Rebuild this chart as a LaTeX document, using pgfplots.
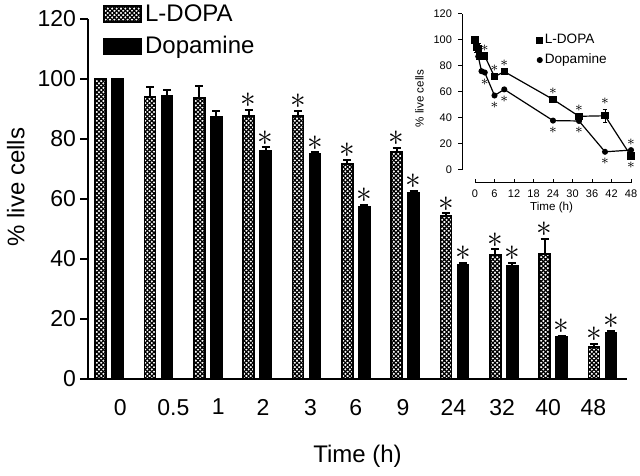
\documentclass[border=0pt]{standalone}
\usepackage{fontspec}
\setmainfont{Liberation Sans}
\usepackage{pgfplots}
\usepackage{pgfplotstable}
\pgfplotsset{compat=1.18}
\usetikzlibrary{patterns}
\pgfdeclarepatternformonly{diamondhatch}{\pgfqpoint{-0.5pt}{-0.5pt}}{\pgfqpoint{2.7pt}{2.7pt}}{\pgfqpoint{2.2pt}{2.2pt}}{%
 \pgfsetlinewidth{0.55pt}%
 \pgfpathmoveto{\pgfqpoint{-0.5pt}{-0.5pt}}\pgfpathlineto{\pgfqpoint{2.7pt}{2.7pt}}%
 \pgfpathmoveto{\pgfqpoint{-0.5pt}{2.7pt}}\pgfpathlineto{\pgfqpoint{2.7pt}{-0.5pt}}%
 \pgfusepath{stroke}}

\pgfplotstableread{
x t L Lerr D Derr
0 0 100 0 100 0
1 0.5 94 3.3 94.5 1.7
2 1 93.7 4 87.3 2
3 2 87.7 2 76 1.3
4 3 87.7 1.7 75 0.6
5 6 71.7 1.3 57.3 0.7
6 9 75.7 1.3 62 0.7
7 24 54.3 1 38 0.7
8 32 41.3 2 37.7 1
9 40 41.7 5 14 0.4
10 48 10.7 1 15.3 0.7
}\data

\newcommand{\bigast}{\scalebox{1.3}{\fontsize{13}{13}\selectfont$\ast$}}
\newcommand{\smallast}{\fontsize{7}{7}\selectfont$\ast$}

\begin{document}
\begin{tikzpicture}
\useasboundingbox (0,0) rectangle (320pt,237.5pt);
\begin{axis}[
  at={(44pt,48pt)}, anchor=south west,
  scale only axis, width=269.5pt, height=180pt,
  xmin=-0.43, xmax=10.5, ymin=0, ymax=120,
  axis x line*=bottom, axis y line*=left,
  axis line style={line width=1pt, black},
  ytick={0,20,...,120},
  xtick={0.223,1.30,2.21,3.12,4.08,5.0,5.96,6.98,7.97,8.90,9.82},
  xticklabels={0,0.5,1,2,3,6,9,24,32,40,48},
  x tick style={draw=none},
  y tick style={line width=1pt, black},
  tick align=outside, major tick length=4pt,
  ticklabel style={font=\fontsize{11.5}{12}\selectfont},
  xticklabel style={yshift=-2.5pt},
  yticklabel style={xshift=1.5pt},
  /pgf/number format/assume math mode=true,
  xlabel={Time (h)},
  ylabel={\% live cells},
  label style={font=\fontsize{12}{12}\selectfont},
  xlabel style={at={(axis description cs:0.5,-0.2306)}, anchor=base},
  ylabel style={at={(axis description cs:-0.118,0.533)}, anchor=base, rotate=0},
  ybar, bar width=5.5pt,
  legend image code/.code={\draw[#1, line width=0.8pt] (0pt,-3.8pt) rectangle (18.5pt,4pt);},
  legend style={at={(axis description cs:0.028,1.05)}, anchor=north west,
    draw=none, fill=none, font=\fontsize{12}{12}\selectfont,
    row sep=3pt, inner sep=0pt, nodes={inner sep=1.5pt}},
  legend cell align=left,
  error bars/error bar style={line width=1pt, black},
  error bars/error mark options={rotate=90, mark size=2pt, line width=1pt, black},
]
\addplot[bar shift=-4.25pt, draw=black, line width=0.8pt, pattern=diamondhatch, pattern color=black,
  error bars/.cd, y dir=plus, y explicit]
  table[x=x, y=L, y error=Lerr]{\data};
\addlegendentry{L-DOPA}
\addplot[bar shift=4.25pt, draw=black, line width=0.8pt, fill=black,
  error bars/.cd, y dir=plus, y explicit]
  table[x=x, y=D, y error=Derr]{\data};
\addlegendentry{Dopamine}
% significance marks above L-DOPA bars
\addplot[bar shift=-4.25pt, draw=none, fill=none, forget plot,
  nodes near coords={\bigast},
  every node near coord/.append style={anchor=south, inner sep=0pt, yshift=0.8pt, text=black}]
  coordinates {(3,89.7) (4,89.4) (5,73) (6,77) (7,55.3) (8,43.3) (9,46.7) (10,11.7)};
% significance marks above Dopamine bars
\addplot[bar shift=4.25pt, draw=none, fill=none, forget plot,
  nodes near coords={\bigast},
  every node near coord/.append style={anchor=south, inner sep=0pt, yshift=0.8pt, text=black}]
  coordinates {(3,77.3) (4,75.6) (5,58) (6,62.7) (7,38.7) (8,38.7) (9,14.4) (10,16)};
\end{axis}

\begin{axis}[
  at={(231pt,146pt)}, anchor=south west,
  scale only axis, width=84.5pt, height=84.5pt,
  xmin=-4, xmax=48, ymin=-10, ymax=120,
  axis line style={draw=none},
  xtick={0,6,...,48}, ytick={0,20,...,120},
  xtick pos=left, ytick pos=left,
  tick align=inside, major tick length=2pt,
  tick style={line width=0.5pt, black},
  y tick style={xshift=-2pt},
  ticklabel style={font=\fontsize{5.5}{6}\selectfont},
  yticklabel style={xshift=-1.5pt},
  /pgf/number format/assume math mode=true,
  xlabel={Time (h)}, ylabel={\% live cells},
  label style={font=\fontsize{5.8}{6}\selectfont},
  xlabel style={at={(axis description cs:0.53,-0.16)}, anchor=base},
  ylabel style={yshift=-2pt},
  legend style={at={(axis description cs:0.44,0.895)}, anchor=north west,
    draw=none, fill=none, font=\fontsize{6.8}{7}\selectfont,
    row sep=1.5pt, inner sep=0pt, nodes={inner sep=1pt}},
  legend cell align=left,
  legend image code/.code={\draw[#1, only marks] plot coordinates {(0pt,0pt)};},
]
\draw[line width=0.6pt] (axis cs:-4,0) -- (axis cs:-4,120);
\draw[line width=0.6pt] (axis cs:0,-10) -- (axis cs:48,-10);
\addplot[black, line width=0.6pt, mark=square*, mark size=1.5pt,
  error bars/.cd, y dir=both, y explicit,
  error bar style={line width=0.4pt, black},
  error mark options={rotate=90, mark size=1.2pt, line width=0.4pt, black}]
  table[x=t, y=L, y error=Lerr]{\data};
\addlegendentry{L-DOPA}
\addplot[black, line width=0.6pt, mark=*, mark size=1.2pt,
  error bars/.cd, y dir=both, y explicit,
  error bar style={line width=0.4pt, black},
  error mark options={rotate=90, mark size=1.2pt, line width=0.4pt, black}]
  table[x=t, y=D, y error=Derr]{\data};
\addlegendentry{Dopamine}
\addplot[draw=none, mark=none, forget plot,
  nodes near coords={\smallast},
  every node near coord/.append style={anchor=south, inner sep=0pt, yshift=2.2pt, text=black}]
  coordinates {(3,87.7) (6,71.7) (9,75.7) (24,54.3) (32,41.3) (40,46.7) (48,15.3)};
\addplot[draw=none, mark=none, forget plot,
  nodes near coords={\smallast},
  every node near coord/.append style={anchor=north, inner sep=0pt, yshift=-3pt, text=black}]
  coordinates {(3,75) (6,57.3) (9,62) (24,38) (32,37.7) (40,14) (48,10.7)};
\end{axis}
\end{tikzpicture}
\end{document}
